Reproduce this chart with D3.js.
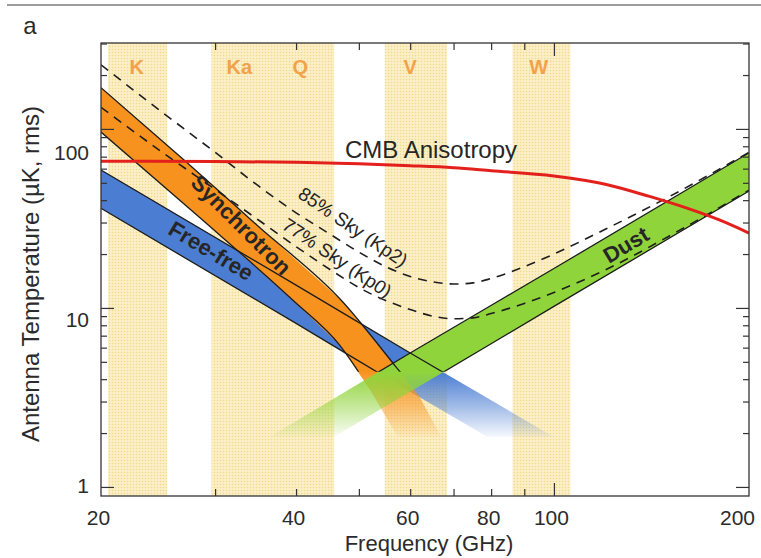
<!DOCTYPE html>
<html>
<head>
<meta charset="utf-8">
<script src="https://cdn.jsdelivr.net/npm/d3@7"></script>
<style>
  body { margin: 0; background: #ffffff; }
  text { font-family: "Liberation Sans", Arial, Helvetica, sans-serif; }
</style>
</head>
<body>
<svg id="chart" width="761" height="558"></svg>
<script>
// ---- data -------------------------------------------------------------
// WMAP frequency bands (GHz)
const bandNames  = ["K", "Ka", "Q", "V", "W"];
const bandLow    = [20.5, 29.6, 36.0, 54.8, 86.3];
const bandHigh   = [25.3, 37.0, 45.8, 68.4, 106.0];
const bandCentre = [22.7, 32.7, 40.6, 60.0, 94.7];

// CMB anisotropy in antenna temperature (uK rms)
const cmbFreq = [20, 30, 40, 50, 60, 70, 80, 100, 120, 140, 160, 180, 200];
const cmbTemp = [66, 65.7, 65.1, 63.8, 62.3, 60.7, 58.4, 54.6, 49.1, 42.1, 36.2, 31, 26.2];

// foreground ranges: [GHz, uK] along the upper and lower edge of each band
const synchUpper    = [[20, 170], [27, 66], [35, 28.5], [47, 11], [57, 4.7], [62, 3.2], [67, 1.9]];
const synchLower    = [[20, 96], [28.4, 32], [39.6, 11], [46.7, 6.2], [52, 3.5], [57.4, 1.9]];
const freefreeUpper = [[20, 59], [40, 13.4], [60, 5.6], [100, 1.9]];
const freefreeLower = [[20, 36], [40, 8.2], [60, 3.4], [79, 1.9]];
const dustUpper     = [[36.4, 1.9], [60, 5.6], [100, 16.6], [200, 73.5]];
const dustLower     = [[45.7, 1.9], [60, 3.4], [100, 10.2], [200, 45]];

// total foreground for the two sky cuts
const skyFreq = [20, 25, 30, 35, 40, 45, 50, 55, 60, 65, 70, 75, 80, 90, 100, 120, 150, 200];
const kp2Temp = [228, 122, 74, 48, 34, 26, 20.5, 17, 15, 14, 13.6, 13.8, 14.6, 17, 20, 27.5, 41.5, 74];
const kp0Temp = [132, 73, 46, 31, 22, 16.5, 13, 11, 9.8, 9.0, 8.7, 8.8, 9.3, 10.6, 12.2, 16.3, 25, 45.5];

// axes
const freqLabels  = [20, 40, 60, 80, 100, 200];
const freqMinor   = [30, 40, 50, 60, 70, 80, 90];
const freqMajor   = [100];
const tempLabels  = [1, 10, 100];
const tempMinor   = [2, 3, 4, 5, 6, 7, 8, 9, 20, 30, 40, 50, 60, 70, 80, 90, 200, 300];

// ---- layout -------------------------------------------------------------
const W = 761, H = 558;
const pL = 101, pR = 749, pT = 43, pB = 496;
const fadeHi = 4.4, fadeLo = 1.9;   // foreground bands fade out below ~4 uK

const svg = d3.select("#chart");
const x = d3.scaleLog().domain([20, 200]).range([pL, pR]);
const y = d3.scaleLog().domain([0.89, 302]).range([pB, pT]);

const defs = svg.append("defs");

// halftone texture of the band shading
const pat = defs.append("pattern").attr("id", "dots")
  .attr("width", 3).attr("height", 3).attr("patternUnits", "userSpaceOnUse");
pat.append("rect").attr("width", 3).attr("height", 3).attr("fill", "#fcefc6");
pat.append("circle").attr("cx", 1.5).attr("cy", 1.5).attr("r", 0.75).attr("fill", "#f1d88e");

defs.append("clipPath").attr("id", "plotClip")
  .append("rect").attr("x", pL).attr("y", pT).attr("width", pR - pL).attr("height", pB - pT);
defs.append("clipPath").attr("id", "edgeClip")
  .append("rect").attr("x", pL).attr("y", pT).attr("width", pR - pL).attr("height", y(fadeHi) - pT);

function fadeGradient(id, colour) {
  const g = defs.append("linearGradient").attr("id", id)
    .attr("gradientUnits", "userSpaceOnUse")
    .attr("x1", 0).attr("x2", 0).attr("y1", y(fadeHi)).attr("y2", y(fadeLo));
  g.append("stop").attr("offset", 0).attr("stop-color", colour).attr("stop-opacity", 1);
  g.append("stop").attr("offset", 0.5).attr("stop-color", colour).attr("stop-opacity", 0.55);
  g.append("stop").attr("offset", 1).attr("stop-color", colour).attr("stop-opacity", 0.05);
}
fadeGradient("gFree", "#4b7ed3");
fadeGradient("gSynch", "#f7921e");
fadeGradient("gDust", "#90d43c");

// top rule of the page
svg.append("line").attr("x1", 7).attr("x2", W).attr("y1", 5).attr("y2", 5)
  .attr("stroke", "#9c9c9c").attr("stroke-width", 2);

// panel letter
svg.append("text").attr("x", 30).attr("y", 34).attr("text-anchor", "middle")
  .attr("font-size", 24).attr("fill", "#2b2b2b").text("a");

const plot = svg.append("g").attr("clip-path", "url(#plotClip)");

// receiver bands
plot.selectAll("rect.band").data(bandNames).join("rect")
  .attr("class", "band")
  .attr("x", (d, i) => x(bandLow[i]))
  .attr("width", (d, i) => x(bandHigh[i]) - x(bandLow[i]))
  .attr("y", pT).attr("height", pB - pT)
  .attr("fill", "url(#dots)");

plot.selectAll("text.bandName").data(bandNames).join("text")
  .attr("class", "bandName")
  .attr("x", (d, i) => x(bandCentre[i])).attr("y", 74)
  .attr("text-anchor", "middle").attr("font-size", 20).attr("font-weight", "bold")
  .attr("fill", "#f2a24a").text(d => d);

// foreground bands
const edge = d3.line().x(d => x(d[0])).y(d => y(d[1])).curve(d3.curveMonotoneX);
const foregrounds = [
  { up: freefreeUpper, lo: freefreeLower, fill: "url(#gFree)" },
  { up: synchUpper,    lo: synchLower,    fill: "url(#gSynch)" },
  { up: dustUpper,     lo: dustLower,     fill: "url(#gDust)" }
];
foregrounds.forEach(f => {
  const pts = f.up.concat(f.lo.slice().reverse());
  plot.append("path")
    .attr("d", d3.line().x(d => x(d[0])).y(d => y(d[1]))(pts) + "Z")
    .attr("fill", f.fill).attr("stroke", "none");
});
const edges = plot.append("g").attr("clip-path", "url(#edgeClip)");
foregrounds.forEach(f => {
  [f.up, f.lo].forEach(e => {
    edges.append("path").attr("d", edge(e))
      .attr("fill", "none").attr("stroke", "#1d1d1d").attr("stroke-width", 1.3);
  });
});

// total foreground for the Kp2 and Kp0 cuts
const skyLine = d3.line().x(d => x(d[0])).y(d => y(d[1])).curve(d3.curveMonotoneX);
[kp2Temp, kp0Temp].forEach(t => {
  plot.append("path").attr("d", skyLine(skyFreq.map((f, i) => [f, t[i]])))
    .attr("fill", "none").attr("stroke", "#1e1e1e").attr("stroke-width", 1.6)
    .attr("stroke-dasharray", "9,7");
});

// CMB anisotropy
plot.append("path").attr("d", skyLine(cmbFreq.map((f, i) => [f, cmbTemp[i]])))
  .attr("fill", "none").attr("stroke", "#e3201b").attr("stroke-width", 3);

// in-plot labels
const lab = svg.append("g").attr("fill", "#262626");
function rotLabel(txt, cx, cy, angle, size, weight) {
  lab.append("text").attr("transform", `translate(${cx},${cy}) rotate(${angle})`)
    .attr("text-anchor", "middle").attr("dominant-baseline", "central")
    .attr("font-size", size).attr("font-weight", weight).text(txt);
}
lab.append("text").attr("x", 345).attr("y", 158).attr("font-size", 24).text("CMB Anisotropy");
rotLabel("Synchrotron", 241, 225, 45, 22, "bold");
rotLabel("Free-free", 211, 251, 31, 22, "bold");
rotLabel("Dust", 626, 245, -31, 22, "bold");
rotLabel("85% Sky (Kp2)", 353, 227, 34, 19, "normal");
rotLabel("77% Sky (Kp0)", 337, 258, 34, 19, "normal");

// frame and ticks
const axisCol = "#333333";
svg.append("rect").attr("x", pL).attr("y", pT).attr("width", pR - pL).attr("height", pB - pT)
  .attr("fill", "none").attr("stroke", axisCol).attr("stroke-width", 1.3);

function tickAxis(axis, tx, ty) {
  const g = svg.append("g").attr("transform", `translate(${tx},${ty})`).call(axis);
  g.select(".domain").remove();
  g.selectAll("line").attr("stroke", axisCol).attr("stroke-width", 1.2);
  g.selectAll("text").remove();
  return g;
}
tickAxis(d3.axisBottom(x).tickValues(freqMinor).tickSize(-7), 0, pB);
tickAxis(d3.axisBottom(x).tickValues(freqMajor).tickSize(-13), 0, pB);
tickAxis(d3.axisTop(x).tickValues(freqMinor).tickSize(-7), 0, pT);
tickAxis(d3.axisTop(x).tickValues(freqMajor).tickSize(-13), 0, pT);
tickAxis(d3.axisLeft(y).tickValues(tempMinor).tickSize(-6), pL, 0);
tickAxis(d3.axisLeft(y).tickValues(tempLabels).tickSize(-13), pL, 0);
tickAxis(d3.axisRight(y).tickValues(tempMinor).tickSize(-6), pR, 0);
tickAxis(d3.axisRight(y).tickValues(tempLabels).tickSize(-13), pR, 0);

// tick labels
const xLab = svg.append("g").attr("transform", `translate(0,${pB})`)
  .call(d3.axisBottom(x).tickValues(freqLabels).tickSize(0).tickPadding(14).tickFormat(d3.format("d")));
xLab.select(".domain").remove();
xLab.selectAll("text").attr("font-size", 21).attr("fill", "#2b2b2b")
  .attr("font-family", "Liberation Sans, Arial, sans-serif")
  .attr("dx", d => (x(d) + 24 > W ? -12 : -3));

const yLab = svg.append("g").attr("transform", `translate(${pL},0)`)
  .call(d3.axisLeft(y).tickValues(tempLabels).tickSize(0).tickPadding(12).tickFormat(d3.format("d")));
yLab.select(".domain").remove();
const yNudge = { 1: -1, 10: 12, 100: 24 };
yLab.selectAll("text").attr("font-size", 21).attr("fill", "#2b2b2b")
  .attr("font-family", "Liberation Sans, Arial, sans-serif")
  .attr("dy", d => `${0.32 + yNudge[d] / 21}em`);

// axis titles
svg.append("text").attr("x", 429).attr("y", 551).attr("text-anchor", "middle")
  .attr("font-size", 22).attr("fill", "#2b2b2b").text("Frequency (GHz)");
svg.append("text").attr("transform", "translate(39,274) rotate(-90)")
  .attr("text-anchor", "middle").attr("font-size", 24).attr("fill", "#2b2b2b")
  .text("Antenna Temperature (\u00b5K, rms)");
</script>
</body>
</html>
